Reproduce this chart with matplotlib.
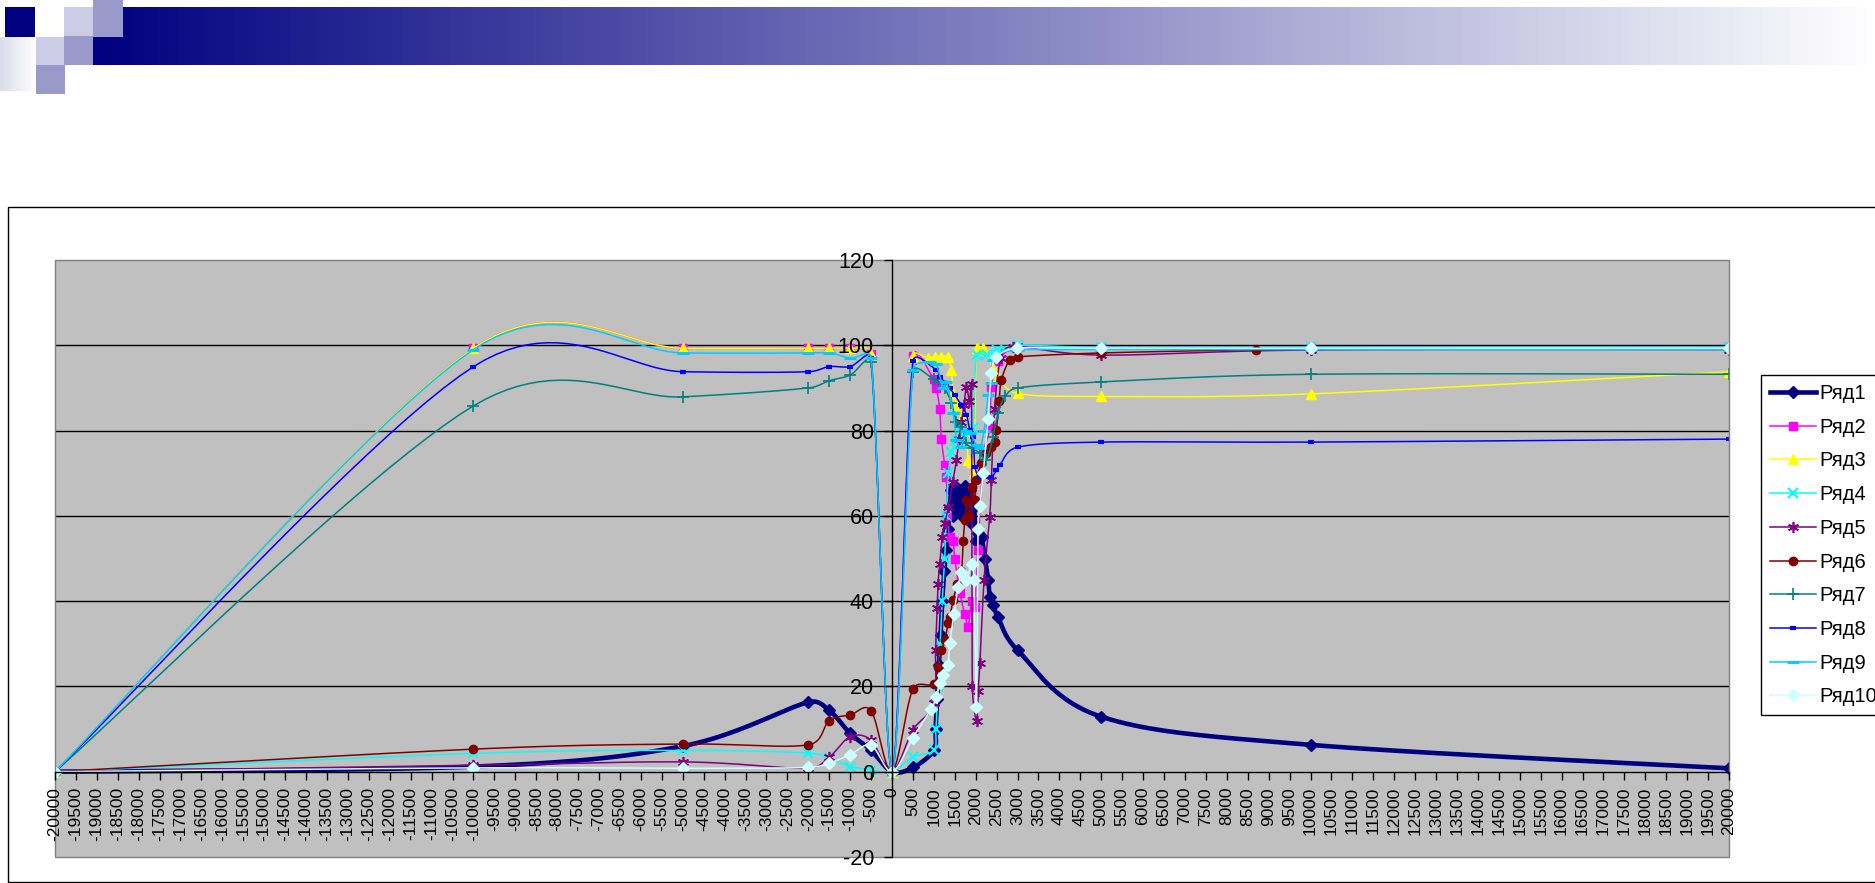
import numpy as np
import matplotlib
matplotlib.use("Agg")
import matplotlib.pyplot as plt
from matplotlib.patches import Rectangle
from matplotlib.lines import Line2D

plt.rcParams['font.family'] = ['Liberation Sans', 'DejaVu Sans']

# ---- data ----
x_ticks = list(range(-20000, 20001, 500))
y_ticks = list(range(-20, 121, 20))

r1_x = [-20000, -10000, -5000, -2000, -1500, -1000, -500, 0, 500, 1000, 1040, 1080, 1120, 1160,
        1200, 1250, 1300, 1340, 1380, 1420, 1460, 1500, 1560, 1620, 1680, 1740, 1800, 1860, 1920,
        1960, 2015, 2060, 2140, 2220, 2300, 2335, 2415, 2530, 3000, 5000, 10000, 20000]
r1_y = [0, 1.2, 6, 16.3, 14.4, 9, 5, 0, 1, 5, 10, 17, 25, 32,
        40, 47, 52, 57, 62, 66, 60, 67, 61, 66, 60, 67, 62, 66, 58,
        62, 54, 56, 55, 50, 45, 41, 39, 36.3, 28.5, 12.9, 6.3, 0.8]

r2_x = [-20000, -10000, -5000, -2000, -1500, -1000, -500, 0, 500, 1000, 1060, 1140, 1180, 1260,
        1300, 1320, 1380, 1460, 1500, 1620, 1740, 1820, 1900, 1980, 2050, 2200, 2335, 2375, 2535,
        3000, 5000, 10000, 20000]
r2_y = [0, 99.3, 99.3, 99.3, 99.3, 99.3, 98, 0, 97.5, 92, 90, 85, 78, 72,
        69, 60, 55, 54, 50, 42, 37, 34, 40, 38.7, 52, 75, 80.5, 90.3, 96.2,
        99.5, 99.5, 99.5, 99.5]

r3_x = [-20000, -10000, -5000, -2000, -1500, -1000, -500, 0, 500, 860, 1020, 1180, 1340, 1420,
        1460, 1560, 1700, 1780, 1820, 1900, 1960, 2020, 2180, 2415, 2530, 3000, 5000, 10000, 20000]
r3_y = [0, 99.3, 99.3, 99.3, 99.3, 99.3, 98, 0, 97.5, 97, 97.3, 97.3, 97.3, 94.2,
        88.7, 86, 83.7, 80, 73, 72.7, 70, 99.3, 99.3, 94.6, 92.6, 88.7, 88, 88.6, 93.8]

r4_x = [-20000, -10000, -5000, -2000, -1500, -1000, -500, 0, 500, 1000, 1050, 1100, 1150, 1200,
        1260, 1300, 1350, 1420, 1540, 1660, 1740, 1840, 1940, 2020, 2260, 2500, 3000, 5000, 10000, 20000]
r4_y = [0, 4.3, 5, 4.4, 3.2, 1.2, 0.5, 0, 3.4, 5, 10, 20, 30, 40,
        50, 60, 70, 75, 77.8, 81, 78.2, 80, 80.5, 97.7, 97.7, 99, 100, 99.5, 99.5, 99.5]

r5_x = [-20000, -10000, -5000, -2000, -1500, -1000, -500, 0, 500, 1000, 1040, 1080, 1100, 1140,
        1200, 1260, 1350, 1450, 1540, 1600, 1660, 1720, 1780, 1850, 1900, 1920, 2020, 2060, 2100,
        2200, 2335, 2375, 2450, 2600, 2890, 5000, 10000, 20000]
r5_y = [0, 1.5, 2.3, 0.8, 3.4, 8.2, 7.4, 0, 9.8, 16, 28.5, 38.3, 44, 48.8,
        55, 58.3, 62, 68, 73, 78, 82, 86, 90.3, 87, 91, 20, 12, 19, 25.5,
        45, 59.8, 68.4, 85, 97, 99.7, 97.7, 98.9, 99]

r6_x = [-20000, -10000, -5000, -2000, -1500, -1000, -500, 0, 500, 1000, 1100, 1180, 1260, 1340,
        1380, 1460, 1560, 1660, 1700, 1740, 1780, 1840, 1900, 1980, 2015, 2135, 2255, 2375, 2455,
        2495, 2560, 2615, 2810, 3000, 5000, 8700]
r6_y = [0, 5.3, 6.5, 6.3, 12, 13.3, 14.3, 0, 19.4, 20.5, 24.6, 28.5, 30.8, 34.8,
        36.3, 40.2, 44, 47, 54, 59, 63.7, 60, 66.8, 63.7, 68.4, 72.3, 74.7, 76.2, 77.4,
        80.1, 87, 91.9, 96.6, 97.3, 98.2, 99]

r7_x = [-20000, -10000, -5000, -2000, -1500, -1000, -500, 0, 500, 1000, 1100, 1260, 1420, 1540,
        1660, 1780, 1900, 2100, 2255, 2415, 2535, 2700, 3000, 5000, 10000, 20000]
r7_y = [0, 85.8, 87.9, 90, 91.7, 93, 96, 0, 93.8, 92, 91.5, 89.9, 86.4, 82.1,
        80.9, 77, 76, 74.7, 73.1, 78.6, 84.1, 88, 90, 91.4, 93.2, 93.2]

r8_x = [-20000, -10000, -5000, -2000, -1500, -1000, -500, 0, 500, 1060, 1140, 1300, 1380, 1500,
        1650, 1780, 1860, 1940, 1980, 2100, 2375, 2495, 2580, 3000, 5000, 10000, 20000]
r8_y = [0, 95, 93.8, 93.8, 95, 95, 97, 0, 96.2, 94.2, 92.6, 91.1, 89.9, 88.4,
        86, 83.7, 80.1, 78.6, 71.5, 69.2, 69.2, 70.8, 72, 76.1, 77.3, 77.3, 78]

r9_x = [-20000, -10000, -5000, -2000, -1500, -1000, -500, 0, 500, 900, 1060, 1220, 1300, 1460,
        1540, 1660, 1760, 1860, 2020, 2100, 2200, 2300, 2375, 2415, 2735, 3000, 5000, 10000, 20000]
r9_y = [0, 99, 98.2, 98.2, 98.2, 97, 97, 0, 94.2, 96, 95.5, 90, 91.5, 84.1,
        77.8, 76.2, 80, 79.4, 76.6, 75.8, 80, 88.3, 91.1, 96.5, 98.8, 99, 99, 99, 99]

r10_x = [-20000, -10000, -5000, -2000, -1500, -1000, -500, 0, 500, 940, 1060, 1140, 1220, 1340,
         1380, 1480, 1580, 1660, 1780, 1900, 1960, 2017, 2055, 2100, 2180, 2295, 2375, 2495, 2975,
         5000, 10000, 20000]
r10_y = [0, 0.9, 0.8, 1, 2, 4, 6.2, 0, 8, 14.8, 17.5, 20.7, 22.6, 25,
         30.1, 37, 43.4, 46.9, 45, 48.8, 45, 15.2, 57, 62.2, 70, 82.7, 93.4, 97.2, 99.3,
         99.3, 99.3, 99.3]

names = ['Ряд1', 'Ряд2', 'Ряд3', 'Ряд4', 'Ряд5', 'Ряд6', 'Ряд7', 'Ряд8', 'Ряд9', 'Ряд10']
xs_all = [r1_x, r2_x, r3_x, r4_x, r5_x, r6_x, r7_x, r8_x, r9_x, r10_x]
ys_all = [r1_y, r2_y, r3_y, r4_y, r5_y, r6_y, r7_y, r8_y, r9_y, r10_y]

colors = ['#000080', '#FF00FF', '#FFFF00', '#00FFFF', '#800080',
          '#800000', '#008080', '#0000FF', '#00CCFF', '#CCFFFF']
# marker, size, edge width
markers = [('D', 6, 1), ('s', 6, 1), ('^', 7, 1), ('x', 7, 1.5), ((6, 2, 0), 8, 1.2),
           ('o', 6, 1), ('+', 9, 1.2), ('_', 5, 3), ('_', 9, 2.2), ('D', 6.5, 1)]
widths = [3.3, 1.1, 1.1, 1.1, 1.1, 1.1, 1.1, 1.1, 1.1, 1.1]

W, H = 1875, 883
# plot area in pixels
PL, PR, PT, PB = 55, 1729, 260, 857
SX = (PR - PL) / 40000.0
SY = (PB - PT) / 140.0


def excel_smooth(xs, ys, n=24):
    # bezier through the points, like Excel's "smoothed line", done in screen units
    p = np.column_stack([np.asarray(xs, float) * SX, np.asarray(ys, float) * SY])
    t = np.linspace(0, 1, n)[1:, None]
    out = [p[:1]]
    for i in range(len(p) - 1):
        p0 = p[max(i - 1, 0)]
        p1 = p[i]
        p2 = p[i + 1]
        p3 = p[min(i + 2, len(p) - 1)]
        seg = np.hypot(*(p2 - p1))
        a = (p2 - p0) / 6.0
        b = (p3 - p1) / 6.0
        la = np.hypot(*a)
        lb = np.hypot(*b)
        if la > seg / 2 and la > 0:
            a = a * (seg / 2 / la)
        if lb > seg / 2 and lb > 0:
            b = b * (seg / 2 / lb)
        c1 = p1 + a
        c2 = p2 - b
        cur = (1 - t) ** 3 * p1 + 3 * (1 - t) ** 2 * t * c1 + 3 * (1 - t) * t ** 2 * c2 + t ** 3 * p2
        out.append(cur)
    q = np.vstack(out)
    return q[:, 0] / SX, q[:, 1] / SY


fig = plt.figure(figsize=(W / 100, H / 100), dpi=100)

# ---- slide decoration ----
bg = fig.add_axes([0, 0, 1, 1], zorder=-10)
bg.set_xlim(0, W)
bg.set_ylim(H, 0)
bg.axis('off')

grad = np.linspace(0, 1, 512)
navy = np.array([0, 0, 128]) / 255.0
bar = navy[None, :] * (1 - grad[:, None]) + grad[:, None]
bg.imshow(bar[None, :, :], extent=(93, W, 65, 7), aspect='auto', interpolation='bilinear')

fade = np.linspace(0, 1, 64)
lav = np.array([220, 220, 236]) / 255.0
fd = lav[None, :] * (1 - fade[:, None]) + fade[:, None]
bg.imshow(fd[None, :, :], extent=(0, 36, 91, 37), aspect='auto', interpolation='bilinear')

squares = [(5, 7, 30, 30, '#000080'), (64, 7, 29, 29, '#CCCCE6'), (93, 0, 30, 37, '#9999CC'),
           (36, 37, 28, 28, '#CCCCE6'), (64, 36, 29, 29, '#9999CC'), (36, 65, 29, 29, '#9999CC')]
for sx0, sy0, sw, sh, sc in squares:
    bg.add_patch(Rectangle((sx0, sy0), sw, sh, color=sc, lw=0))

# chart area border
bg.add_patch(Rectangle((8, 207), W, 675, fill=False, ec='black', lw=1))

# ---- chart ----
ax = fig.add_axes([PL / W, 1 - PB / H, (PR - PL) / W, (PB - PT) / H])
ax.set_facecolor('#C0C0C0')
ax.set_xlim(-20000, 20000)
ax.set_ylim(-20, 120)

for v in [20, 40, 60, 80, 100]:
    ax.axhline(v, color='black', lw=1, zorder=1)

for i in range(len(names)):
    lx, ly = excel_smooth(xs_all[i], ys_all[i])
    ax.plot(lx, ly, color=colors[i], lw=widths[i], zorder=2 + i * 0.1,
            solid_joinstyle='round', solid_capstyle='round')
    m, ms, mew = markers[i]
    ax.plot(xs_all[i], ys_all[i], linestyle='none', marker=m, ms=ms, mew=mew,
            mfc=colors[i], mec=colors[i], zorder=2.05 + i * 0.1)

ax.spines['left'].set_position(('data', 0))
ax.spines['bottom'].set_position(('data', 0))
ax.spines['top'].set_visible(False)
ax.spines['right'].set_visible(False)
for s in ('left', 'bottom'):
    ax.spines[s].set_color('black')
    ax.spines[s].set_linewidth(1)
    ax.spines[s].set_zorder(5)
ax.add_patch(Rectangle((0, 0), 1, 1, transform=ax.transAxes, fill=False,
                       ec='#808080', lw=1, clip_on=False, zorder=5))

ax.set_xticks(x_ticks)
ax.set_xticklabels([str(v) for v in x_ticks])
ax.set_yticks(y_ticks)
ax.set_yticklabels([str(v) for v in y_ticks])
ax.tick_params(axis='x', direction='out', length=6, width=1, labelsize=12.5, pad=5,
               labelrotation=90)
ax.tick_params(axis='y', direction='out', length=6, width=1, labelsize=15.5, pad=7)
ax.xaxis.set_zorder(6)
ax.yaxis.set_zorder(6)

# ---- legend ----
handles = []
for i in range(len(names)):
    m, ms, mew = markers[i]
    handles.append(Line2D([], [], color=colors[i], lw=widths[i], marker=m, ms=ms, mew=mew,
                          mfc=colors[i], mec=colors[i]))
leg = fig.legend(handles, names, loc='upper left', bbox_to_anchor=(1761 / W, 1 - 375 / H),
                 fontsize=14.5, frameon=True, fancybox=False, edgecolor='black', framealpha=1,
                 handlelength=2.3, handletextpad=0.15, labelspacing=0.73, borderpad=0.45,
                 borderaxespad=0)
leg.get_frame().set_linewidth(1)

fig.savefig('out.png', dpi=100)
